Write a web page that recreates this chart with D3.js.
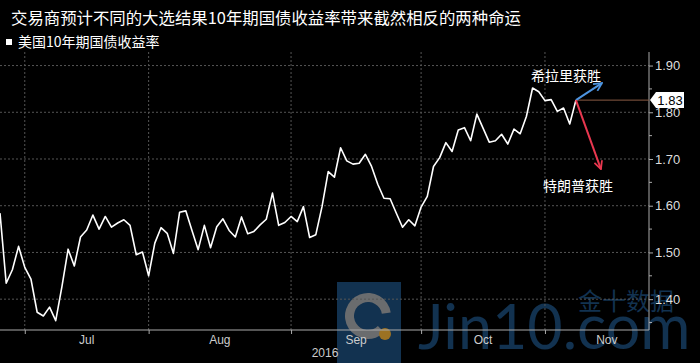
<!DOCTYPE html>
<html>
<head>
<meta charset="utf-8">
<script src="https://cdn.jsdelivr.net/npm/d3@7"></script>
<style>
  body { margin: 0; background: #000; }
  svg { display: block; }
</style>
</head>
<body>
<div id="chart"></div>
<script>
const w = 700;
const h = 363;

const title = "交易商预计不同的大选结果10年期国债收益率带来截然相反的两种命运";
const seriesName = "美国10年期国债收益率";

// 10y yield, trading days from 2016-06-27 to 2016-11-08 (holidays skipped)
const yields = [
  1.584, 1.434, 1.463, 1.513, 1.468, 1.443, 1.372, 1.364, 1.383, 1.354,
  1.427, 1.507, 1.471, 1.533, 1.548, 1.580, 1.550, 1.577, 1.554, 1.563,
  1.570, 1.558, 1.495, 1.501, 1.450, 1.520, 1.553, 1.541, 1.498, 1.586,
  1.589, 1.547, 1.506, 1.558, 1.510, 1.555, 1.572, 1.547, 1.533, 1.576,
  1.540, 1.545, 1.559, 1.571, 1.627, 1.558, 1.564, 1.577, 1.566, 1.598,
  1.532, 1.538, 1.598, 1.673, 1.661, 1.724, 1.696, 1.689, 1.691, 1.710,
  1.684, 1.646, 1.616, 1.615, 1.584, 1.554, 1.570, 1.557, 1.597, 1.620,
  1.684, 1.703, 1.735, 1.716, 1.762, 1.767, 1.739, 1.796, 1.766, 1.736,
  1.739, 1.753, 1.732, 1.764, 1.754, 1.791, 1.852, 1.844, 1.825, 1.827,
  1.802, 1.809, 1.775, 1.826
];

// index of first trading day of each month, plus the end of November
const monthStarts = [4, 24, 47, 68, 88, 108];
const monthLabels = ["Jul", "Aug", "Sep", "Oct", "Nov"];
const yearLabel = "2016";

const yTicks = [1.40, 1.50, 1.60, 1.70, 1.80, 1.90];
const yMinorTicks = [1.35, 1.45, 1.55, 1.65, 1.75, 1.85];

const annoUp = "希拉里获胜";
const annoDown = "特朗普获胜";

const cjk = "'Noto Sans CJK SC', 'Noto Sans', sans-serif";
const num = "'Liberation Sans', Arial, sans-serif";

const plotLeft = 0, plotRight = 649, plotTop = 52, plotBottom = 330;

const x = d3.scaleLinear().domain([0, 104.8]).range([plotLeft, plotRight]);
const y = d3.scaleLinear().domain([1.334, 1.929]).range([plotBottom, plotTop]);

const svg = d3.select("#chart").append("svg").attr("width", w).attr("height", h);
svg.append("rect").attr("width", w).attr("height", h).attr("fill", "#000");

// watermark
const wm = svg.append("g").attr("opacity", 0.85);
wm.append("rect").attr("x", 337).attr("y", 282).attr("width", 64).attr("height", 81).attr("fill", "#163b5e");
wm.append("path")
  .attr("d", d3.arc().innerRadius(14).outerRadius(23).startAngle(Math.PI * 0.75).endAngle(Math.PI * 2.45)())
  .attr("transform", "translate(368,316)")
  .attr("fill", "#7d7f82");
wm.append("circle").attr("cx", 385).attr("cy", 334).attr("r", 6).attr("fill", "#b8862a");
wm.append("text").attr("x", 418).attr("y", 349)
  .style("font-family", "'Lato', 'Open Sans', sans-serif").style("font-size", "61px")
  .attr("fill", "#163b5e").text("Jin10.com");
wm.append("text").attr("x", 578).attr("y", 310)
  .style("font-family", cjk).style("font-size", "24px")
  .attr("fill", "#163b5e").text("金十数据");

// grid
svg.append("g").selectAll("line").data(yTicks).enter().append("line")
  .attr("x1", plotLeft).attr("x2", plotRight)
  .attr("y1", d => y(d)).attr("y2", d => y(d))
  .attr("stroke", "#555").attr("stroke-dasharray", "2,2");
svg.append("g").selectAll("line").data(monthStarts.slice(0, 5)).enter().append("line")
  .attr("x1", d => x(d)).attr("x2", d => x(d))
  .attr("y1", plotTop).attr("y2", plotBottom)
  .attr("stroke", "#555").attr("stroke-dasharray", "2,2");

// bottom axis
const xAxis = svg.append("g")
  .attr("transform", "translate(0," + plotBottom + ")")
  .call(d3.axisBottom(x).tickValues(monthStarts.slice(0, 5)).tickSize(4).tickFormat(""));
xAxis.select(".domain").attr("stroke", "#aaa").attr("d", "M" + plotLeft + ",0H" + plotRight);
xAxis.selectAll(".tick line").attr("stroke", "#aaa");

svg.append("g").selectAll("text").data(monthLabels).enter().append("text")
  .attr("x", (d, i) => (x(monthStarts[i]) + x(monthStarts[i + 1])) / 2)
  .attr("y", 344)
  .attr("text-anchor", "middle")
  .style("font-family", num).style("font-size", "12px")
  .attr("fill", "#ccc")
  .text(d => d);
svg.append("text").attr("x", 325).attr("y", 357).attr("text-anchor", "middle")
  .style("font-family", num).style("font-size", "12px").attr("fill", "#ccc").text(yearLabel);

// right axis
const yAxis = svg.append("g")
  .attr("transform", "translate(" + plotRight + ",0)")
  .call(d3.axisRight(y).tickValues(yTicks).tickSize(4).tickFormat(d3.format(".2f")));
yAxis.select(".domain").attr("stroke", "#aaa").attr("d", "M0," + plotTop + "V" + plotBottom);
yAxis.selectAll(".tick line").attr("stroke", "#aaa");
yAxis.selectAll(".tick text").attr("fill", "#ddd").attr("x", 6)
  .style("font-family", num).style("font-size", "13px");
svg.append("g").selectAll("line").data(yMinorTicks).enter().append("line")
  .attr("x1", plotRight).attr("x2", plotRight + 3)
  .attr("y1", d => y(d)).attr("y2", d => y(d))
  .attr("stroke", "#aaa");

// series line
const line = d3.line().x((d, i) => x(i)).y(d => y(d));
svg.append("path").datum(yields)
  .attr("d", line)
  .attr("fill", "none")
  .attr("stroke", "#fff")
  .attr("stroke-width", 1.6)
  .attr("stroke-linejoin", "round");

// last value marker
const lastI = yields.length - 1;
const lx = x(lastI), ly = y(yields[lastI]);
svg.append("line").attr("x1", lx).attr("x2", plotRight).attr("y1", ly).attr("y2", ly)
  .attr("stroke", "#8a5a44").attr("stroke-width", 1);
svg.append("path")
  .attr("d", `M${plotRight + 1},${ly} L${plotRight + 7},${ly - 8} H${plotRight + 35} V${ly + 8} H${plotRight + 7} Z`)
  .attr("fill", "#fff");
svg.append("text").attr("x", plotRight + 21).attr("y", ly + 4.5).attr("text-anchor", "middle")
  .style("font-family", num).style("font-size", "13px").attr("fill", "#000")
  .text(d3.format(".2f")(yields[lastI]));

// arrows
const defs = svg.append("defs");
[["up", "#4d94e0"], ["down", "#e8374f"]].forEach(function (m) {
  defs.append("marker").attr("id", "arr-" + m[0])
    .attr("viewBox", "0 0 10 10").attr("refX", 9).attr("refY", 5)
    .attr("markerWidth", 10).attr("markerHeight", 10).attr("markerUnits", "userSpaceOnUse")
    .attr("orient", "auto")
    .append("path").attr("d", "M1,1 L9,5 L1,9")
    .attr("fill", "none").attr("stroke", m[1]).attr("stroke-width", 1.8);
});
svg.append("line").attr("x1", lx).attr("y1", ly).attr("x2", lx + 26).attr("y2", ly - 17)
  .attr("stroke", "#4d94e0").attr("stroke-width", 2).attr("marker-end", "url(#arr-up)");
svg.append("line").attr("x1", lx).attr("y1", ly).attr("x2", lx + 25).attr("y2", ly + 69)
  .attr("stroke", "#e8374f").attr("stroke-width", 2).attr("marker-end", "url(#arr-down)");

svg.append("text").attr("x", 531).attr("y", 81)
  .style("font-family", cjk).style("font-size", "14px").attr("fill", "#fff").text(annoUp);
svg.append("text").attr("x", 543).attr("y", 191)
  .style("font-family", cjk).style("font-size", "14px").attr("fill", "#fff").text(annoDown);

// title and legend
svg.append("text").attr("x", 11).attr("y", 24)
  .style("font-family", cjk).style("font-size", "16.4px").attr("fill", "#fff").text(title);
svg.append("rect").attr("x", 6).attr("y", 39).attr("width", 6).attr("height", 6).attr("fill", "#fff");
svg.append("text").attr("x", 18).attr("y", 47)
  .style("font-family", cjk).style("font-size", "14px").attr("fill", "#fff").text(seriesName);
</script>
</body>
</html>
